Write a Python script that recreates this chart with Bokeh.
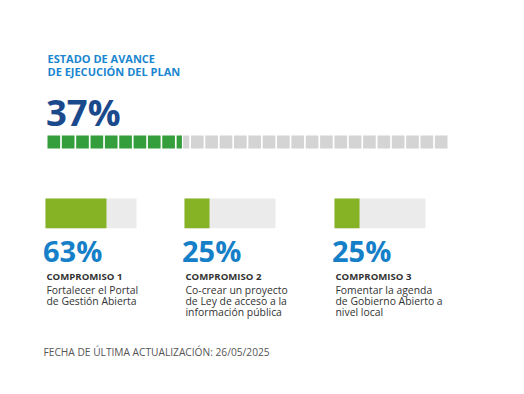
from bokeh.plotting import figure
from bokeh.models import Range1d
from bokeh.core.properties import value
from bokeh.embed import file_html
from bokeh.resources import INLINE

# ---- data ----
title_lines = ["ESTADO DE AVANCE", "DE EJECUCIÓN DEL PLAN"]
plan_percent = 37
plan_segments = 28
plan_filled_segments = 9.42  # as drawn in the reference bar
commit_names = ["COMPROMISO 1", "COMPROMISO 2", "COMPROMISO 3"]
commit_percent = [63, 25, 25]
commit_bar_fraction = [0.67, 0.275, 0.275]  # as drawn
commit_desc = [
    ["Fortalecer el Portal", "de Gestión Abierta"],
    ["Co-crear un proyecto", "de Ley de acceso a la", "información pública"],
    ["Fomentar la agenda", "de Gobierno Abierto a", "nivel local"],
]
footer = "FECHA DE ÚLTIMA ACTUALIZACIÓN: 26/05/2025"

# ---- layout ----
W, H = 508, 378
FONT = "Open Sans"
BASE_FIX = 0.3  # baseline correction in em

p = figure(width=W, height=H, x_range=Range1d(0, W), y_range=Range1d(H, 0),
           output_backend="svg", toolbar_location=None, min_border=0)
p.axis.visible = False
p.grid.visible = False
p.outline_line_color = None
p.background_fill_color = "white"
p.border_fill_color = "white"

def txt(x, y, s, size, color, bold=False):
    p.text(x=[x], y=[y - BASE_FIX * size], text=[s], text_font=value(FONT),
           text_font_size=f"{size}px", text_color=color,
           text_font_style="bold" if bold else "normal",
           text_baseline="alphabetic", text_align="left")

# title
txt(47, 61.5, title_lines[0], 11, "#1a86d0", True)
txt(47, 73.8, title_lines[1], 11, "#1a86d0", True)
txt(45.5, 122.5, f"{plan_percent}%", 36.5, "#1b4a8c", True)

# segmented bar
seg_x0, seg_x1 = 47, 447
gap = 1.7
step = (seg_x1 - seg_x0 + gap) / plan_segments
segw = step - gap
full = int(plan_filled_segments)
frac = plan_filled_segments - full
gl, gr, yl, yr = [], [], [], []
for i in range(plan_segments):
    l = seg_x0 + i * step
    r = l + segw
    if i < full:
        gl.append(l); gr.append(r)
    elif i == full and frac > 0:
        m = l + segw * frac
        gl.append(l); gr.append(m)
        yl.append(m + 1.2); yr.append(r)
    else:
        yl.append(l); yr.append(r)
bt, bb = 135, 148
p.quad(left=yl, right=yr, top=bt, bottom=bb, fill_color="#d5d4d5", line_color=None)
p.quad(left=gl, right=gr, top=bt, bottom=bb, fill_color="#339e3b", line_color=None)

# commitments
col_x = [45, 184, 334]
bar_w = 91
for i in range(3):
    x = col_x[i]
    p.quad(left=[x], right=[x + bar_w], top=198, bottom=227.7,
           fill_color="#ebebeb", line_color=None)
    p.quad(left=[x], right=[x + bar_w * commit_bar_fraction[i]],
           top=198, bottom=227.7, fill_color="#86b225", line_color=None)
    txt(x - 2.5, 258.8, f"{commit_percent[i]}%", 29, "#1580c8", True)
    txt(x + 1, 278.5, commit_names[i], 9.6, "#333333", True)
    for j, line in enumerate(commit_desc[i]):
        txt(x + 1, 293 + j * 10.8, line, 10.4, "#333333")

txt(43, 354.5, footer, 10.2, "#555555")

open("out.html", "w").write(file_html(p, INLINE))
